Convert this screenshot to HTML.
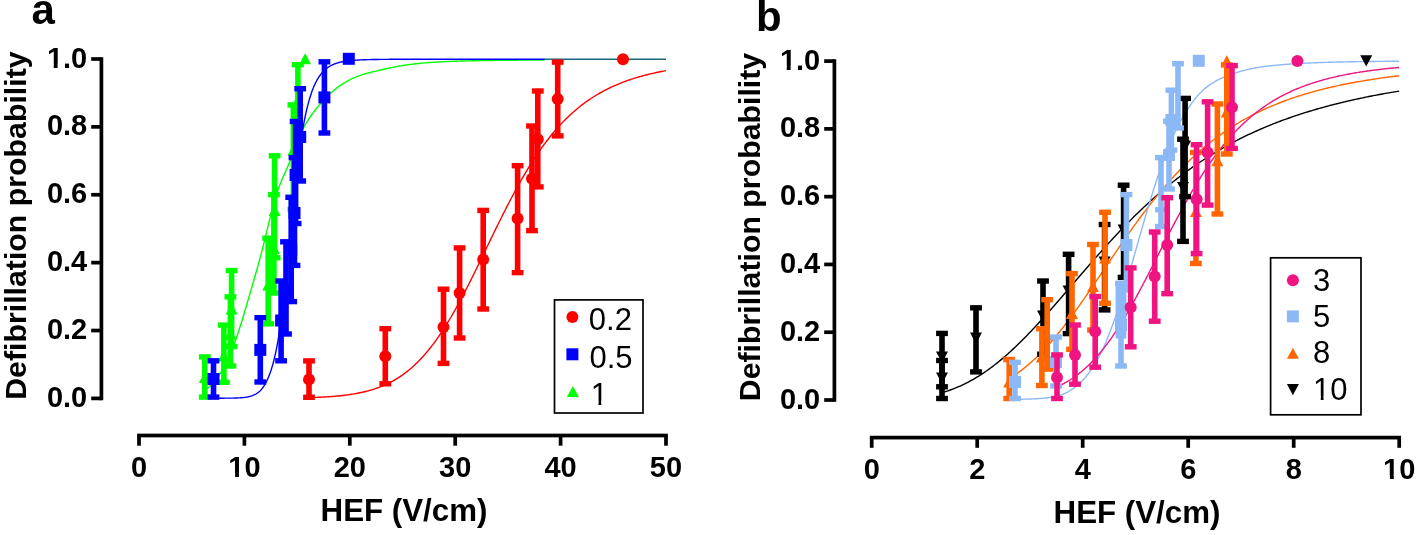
<!DOCTYPE html>
<html><head><meta charset="utf-8"><title>Defibrillation probability</title>
<style>html,body{margin:0;padding:0;background:#fff;}svg{display:block;}text{font-family:"Liberation Sans", sans-serif;fill:#000;filter:grayscale(1);}</style>
</head><body>
<svg width="1418" height="535" viewBox="0 0 1418 535">
<rect width="1418" height="535" fill="#fff"/>
<g id="panel-a">
<text x="31.5" y="24" font-size="42" font-weight="bold">a</text>
<path d="M101.4 59 L101.4 398.4" stroke="#000" stroke-width="3.7" fill="none" stroke-linecap="square"/><rect x="91.2" y="396.55" width="10.2" height="3.7" fill="#000"/><text transform="translate(87.2 406.9) scale(1 1.04)" text-anchor="end" font-size="29" font-weight="bold">0.0</text><rect x="91.2" y="328.67" width="10.2" height="3.7" fill="#000"/><text transform="translate(87.2 339.02) scale(1 1.04)" text-anchor="end" font-size="29" font-weight="bold">0.2</text><rect x="91.2" y="260.79" width="10.2" height="3.7" fill="#000"/><text transform="translate(87.2 271.14) scale(1 1.04)" text-anchor="end" font-size="29" font-weight="bold">0.4</text><rect x="91.2" y="192.91" width="10.2" height="3.7" fill="#000"/><text transform="translate(87.2 203.26) scale(1 1.04)" text-anchor="end" font-size="29" font-weight="bold">0.6</text><rect x="91.2" y="125.03" width="10.2" height="3.7" fill="#000"/><text transform="translate(87.2 135.38) scale(1 1.04)" text-anchor="end" font-size="29" font-weight="bold">0.8</text><rect x="91.2" y="57.15" width="10.2" height="3.7" fill="#000"/><text transform="translate(87.2 67.5) scale(1 1.04)" text-anchor="end" font-size="29" font-weight="bold">1.0</text><rect x="46.89" y="63.73" width="6.81" height="4.37" fill="#fff"/><rect x="57.62" y="63.73" width="5.51" height="4.37" fill="#fff"/><rect x="137.15" y="433.65" width="530.7" height="3.7" fill="#000"/><rect x="137.15" y="435.5" width="3.7" height="10.2" fill="#000"/><text transform="translate(139 477) scale(1 1.04)" text-anchor="middle" font-size="29" font-weight="bold">0</text><rect x="242.55" y="435.5" width="3.7" height="10.2" fill="#000"/><text transform="translate(244.4 477) scale(1 1.04)" text-anchor="middle" font-size="29" font-weight="bold">10</text><rect x="228.28" y="473.23" width="6.81" height="4.37" fill="#fff"/><rect x="239.01" y="473.23" width="5.51" height="4.37" fill="#fff"/><rect x="347.95" y="435.5" width="3.7" height="10.2" fill="#000"/><text transform="translate(349.8 477) scale(1 1.04)" text-anchor="middle" font-size="29" font-weight="bold">20</text><rect x="453.35" y="435.5" width="3.7" height="10.2" fill="#000"/><text transform="translate(455.2 477) scale(1 1.04)" text-anchor="middle" font-size="29" font-weight="bold">30</text><rect x="558.75" y="435.5" width="3.7" height="10.2" fill="#000"/><text transform="translate(560.6 477) scale(1 1.04)" text-anchor="middle" font-size="29" font-weight="bold">40</text><rect x="664.15" y="435.5" width="3.7" height="10.2" fill="#000"/><text transform="translate(666 477) scale(1 1.04)" text-anchor="middle" font-size="29" font-weight="bold">50</text>
<text transform="translate(26 225.6) rotate(-90)" text-anchor="middle" font-size="30.3" font-weight="bold">Defibrillation probability</text>
<text x="404" y="521" text-anchor="middle" font-size="31.3" font-weight="bold">HEF (V/cm)</text>
<g fill="none" stroke-width="1.4">
<path d="M204.88 389.8 L206.01 389 L207.14 388.14 L208.27 387.22 L209.41 386.24 L210.54 385.18 L211.67 384.06 L212.81 382.86 L213.94 381.59 L215.07 380.24 L216.21 378.81 L217.34 377.29 L218.47 375.68 L219.6 373.99 L220.74 372.2 L221.87 370.32 L223 368.34 L224.14 366.27 L225.27 364.1 L226.4 361.83 L227.54 359.45 L228.67 356.97 L229.8 354.4 L230.94 351.72 L232.07 348.93 L233.2 346.05 L234.33 343.06 L235.47 339.98 L236.6 336.78 L237.73 333.47 L238.87 330.06 L240 326.55 L241.13 322.96 L242.27 319.29 L243.4 315.55 L244.53 311.75 L245.66 307.91 L246.8 304.03 L247.93 300.12 L249.06 296.23 L250.2 292.34 L251.33 288.44 L252.46 284.55 L253.6 280.63 L254.73 276.69 L255.86 272.71 L257 268.7 L258.13 264.63 L259.26 260.51 L260.39 256.33 L261.53 252.07 L262.66 247.71 L263.79 243.21 L264.93 238.62 L266.06 233.97 L267.19 229.3 L268.33 224.64 L269.46 220.02 L270.59 215.48 L271.72 211.05 L272.86 206.74 L273.99 202.6 L275.12 198.63 L276.26 194.86 L277.39 191.31 L278.52 187.99 L279.66 184.92 L280.79 182.04 L281.92 179.31 L283.06 176.68 L284.19 174.11 L285.32 171.57 L286.45 169.02 L287.59 166.43 L288.72 163.78 L289.85 161.03 L290.99 158.17 L292.12 155.2 L293.25 152.16 L294.39 149.11 L295.52 146.07 L296.65 143.08 L297.79 140.18 L298.92 137.37 L300.05 134.7 L301.18 132.16 L302.32 129.79 L303.45 127.58 L304.58 125.5 L305.72 123.51 L306.85 121.62 L307.98 119.81 L309.12 118.07 L310.25 116.39 L311.38 114.77 L312.51 113.21 L313.65 111.69 L314.78 110.21 L315.91 108.76 L317.05 107.35 L318.18 105.97 L319.31 104.61 L320.45 103.28 L321.58 101.97 L322.71 100.7 L323.85 99.46 L324.98 98.24 L326.11 97.07 L327.24 95.92 L328.38 94.81 L329.51 93.72 L330.64 92.67 L331.78 91.66 L332.91 90.67 L334.04 89.71 L335.18 88.79 L336.31 87.9 L337.44 87.03 L338.57 86.19 L339.71 85.39 L340.84 84.61 L341.97 83.85 L343.11 83.13 L344.24 82.43 L345.37 81.75 L346.51 81.1 L347.64 80.47 L348.77 79.87 L349.91 79.28 L351.04 78.72 L352.17 78.18 L353.3 77.66 L354.44 77.16 L355.57 76.68 L356.7 76.22 L357.84 75.78 L358.97 75.35 L360.1 74.94 L361.24 74.55 L362.37 74.18 L363.5 73.82 L364.64 73.49 L365.77 73.16 L366.9 72.85 L368.03 72.55 L369.17 72.26 L370.3 71.97 L371.43 71.69 L372.57 71.41 L373.7 71.14 L374.83 70.87 L375.97 70.6 L377.1 70.33 L378.23 70.06 L379.36 69.79 L380.5 69.52 L381.63 69.26 L382.76 68.99 L383.9 68.73 L385.03 68.47 L386.16 68.22 L387.3 67.97 L388.43 67.73 L389.56 67.49 L390.7 67.25 L391.83 67.02 L392.96 66.79 L394.09 66.57 L395.23 66.36 L396.36 66.15 L397.49 65.94 L398.63 65.74 L399.76 65.54 L400.89 65.35 L402.03 65.17 L403.16 64.99 L404.29 64.81 L405.42 64.64 L406.56 64.48 L407.69 64.32 L408.82 64.16 L409.96 64.01 L411.09 63.86 L412.22 63.72 L413.36 63.58 L414.49 63.45 L415.62 63.32 L416.76 63.19 L417.89 63.07 L419.02 62.95 L420.15 62.84 L421.29 62.73 L422.42 62.62 L423.55 62.52 L424.69 62.42 L425.82 62.33 L426.95 62.23 L428.09 62.15 L429.22 62.06 L430.35 61.98 L431.48 61.9 L432.62 61.82 L433.75 61.74 L434.88 61.67 L436.02 61.6 L437.15 61.53 L438.28 61.47 L439.42 61.4 L440.55 61.34 L441.68 61.29 L442.82 61.23 L443.95 61.17 L445.08 61.12 L446.21 61.07 L447.35 61.02 L448.48 60.98 L449.61 60.93 L450.75 60.89 L451.88 60.84 L453.01 60.8 L454.15 60.76 L455.28 60.73 L456.41 60.69 L457.55 60.65 L458.68 60.62 L459.81 60.59 L460.94 60.55 L462.08 60.52 L463.21 60.49 L464.34 60.46 L465.48 60.44 L466.61 60.41 L467.74 60.38 L468.88 60.35 L470.01 60.33 L471.14 60.3 L472.27 60.28 L473.41 60.26 L474.54 60.23 L475.67 60.21 L476.81 60.19 L477.94 60.17 L479.07 60.15 L480.21 60.13 L481.34 60.11 L482.47 60.09 L483.61 60.07 L484.74 60.05 L485.87 60.03 L487 60.02 L488.14 60 L489.27 59.98 L490.4 59.97 L491.54 59.95 L492.67 59.94 L493.8 59.92 L494.94 59.91 L496.07 59.89 L497.2 59.88 L498.33 59.86 L499.47 59.85 L500.6 59.84 L501.73 59.83 L502.87 59.81 L504 59.8 L505.13 59.79 L506.27 59.78 L507.4 59.77 L508.53 59.76 L509.67 59.75 L510.8 59.73 L511.93 59.72 L513.06 59.71 L514.2 59.71 L515.33 59.7 L516.46 59.69 L517.6 59.68 L518.73 59.67 L519.86 59.66 L521 59.65 L522.13 59.64 L523.26 59.63 L524.4 59.63 L525.53 59.62 L526.66 59.61 L527.79 59.6 L528.93 59.6 L530.06 59.59 L531.19 59.58 L532.33 59.58 L533.46 59.57 L534.59 59.56 L535.73 59.56 L536.86 59.55 L537.99 59.54 L539.12 59.54 L540.26 59.53 L541.39 59.53 L542.52 59.52 L543.66 59.52 L544.79 59.51" stroke="#00ff00" transform="translate(0 0.5)"/>
<path d="M213.83 398.2 L214.39 398.2 L214.94 398.2 L215.49 398.2 L216.04 398.2 L216.59 398.2 L217.14 398.19 L217.7 398.19 L218.25 398.19 L218.8 398.19 L219.35 398.19 L219.9 398.19 L220.45 398.19 L221 398.19 L221.56 398.19 L222.11 398.19 L222.66 398.18 L223.21 398.18 L223.76 398.18 L224.31 398.18 L224.87 398.17 L225.42 398.17 L225.97 398.17 L226.52 398.17 L227.07 398.16 L227.62 398.16 L228.18 398.15 L228.73 398.15 L229.28 398.14 L229.83 398.14 L230.38 398.13 L230.93 398.12 L231.48 398.11 L232.04 398.1 L232.59 398.09 L233.14 398.08 L233.69 398.07 L234.24 398.06 L234.79 398.04 L235.35 398.03 L235.9 398.01 L236.45 397.99 L237 397.97 L237.55 397.95 L238.1 397.92 L238.66 397.9 L239.21 397.87 L239.76 397.84 L240.31 397.8 L240.86 397.77 L241.41 397.72 L241.97 397.68 L242.52 397.63 L243.07 397.58 L243.62 397.52 L244.17 397.46 L244.72 397.4 L245.27 397.32 L245.83 397.25 L246.38 397.16 L246.93 397.07 L247.48 396.97 L248.03 396.86 L248.58 396.75 L249.14 396.62 L249.69 396.49 L250.24 396.34 L250.79 396.18 L251.34 396.01 L251.89 395.83 L252.45 395.63 L253 395.42 L253.55 395.19 L254.1 394.95 L254.65 394.68 L255.2 394.4 L255.76 394.1 L256.31 393.77 L256.86 393.42 L257.41 393.04 L257.96 392.64 L258.51 392.21 L259.06 391.75 L259.62 391.25 L260.17 390.72 L260.72 390.16 L261.27 389.55 L261.82 388.9 L262.37 388.21 L262.93 387.47 L263.48 386.69 L264.03 385.85 L264.58 384.97 L265.13 384.03 L265.68 383.04 L266.24 381.99 L266.79 380.88 L267.34 379.72 L267.89 378.5 L268.44 377.21 L268.99 375.87 L269.54 374.45 L270.1 372.96 L270.65 371.39 L271.2 369.74 L271.75 368 L272.3 366.17 L272.85 364.23 L273.41 362.19 L273.96 360.03 L274.51 357.78 L275.06 355.43 L275.61 352.96 L276.16 350.35 L276.72 347.59 L277.27 344.67 L277.82 341.56 L278.37 338.26 L278.92 334.77 L279.47 331.09 L280.03 327.22 L280.58 323.15 L281.13 318.9 L281.68 314.47 L282.23 309.86 L282.78 305.09 L283.33 300.16 L283.89 295.08 L284.44 289.87 L284.99 284.55 L285.54 279.13 L286.09 273.62 L286.64 268.06 L287.2 262.45 L287.75 256.82 L288.3 251.18 L288.85 245.56 L289.4 239.99 L289.95 234.46 L290.51 228.96 L291.06 223.49 L291.61 218.07 L292.16 212.7 L292.71 207.39 L293.26 202.16 L293.82 197.01 L294.37 191.95 L294.92 186.99 L295.47 182.13 L296.02 177.38 L296.57 172.74 L297.12 168.22 L297.68 163.82 L298.23 159.55 L298.78 155.4 L299.33 151.38 L299.88 147.49 L300.43 143.73 L300.99 140.09 L301.54 136.59 L302.09 133.21 L302.64 129.95 L303.19 126.82 L303.74 123.81 L304.3 120.93 L304.85 118.16 L305.4 115.5 L305.95 112.95 L306.5 110.52 L307.05 108.18 L307.6 105.95 L308.16 103.82 L308.71 101.77 L309.26 99.82 L309.81 97.96 L310.36 96.18 L310.91 94.48 L311.47 92.85 L312.02 91.3 L312.57 89.82 L313.12 88.41 L313.67 87.06 L314.22 85.77 L314.78 84.55 L315.33 83.38 L315.88 82.26 L316.43 81.2 L316.98 80.18 L317.53 79.21 L318.09 78.29 L318.64 77.41 L319.19 76.57 L319.74 75.77 L320.29 75.01 L320.84 74.28 L321.39 73.59 L321.95 72.93 L322.5 72.29 L323.05 71.69 L323.6 71.12 L324.15 70.57 L324.7 70.04 L325.26 69.55 L325.81 69.07 L326.36 68.62 L326.91 68.19 L327.46 67.78 L328.01 67.38 L328.57 67.01 L329.12 66.66 L329.67 66.32 L330.22 66 L330.77 65.69 L331.32 65.4 L331.87 65.12 L332.43 64.86 L332.98 64.61 L333.53 64.37 L334.08 64.14 L334.63 63.92 L335.18 63.72 L335.74 63.52 L336.29 63.34 L336.84 63.16 L337.39 62.99 L337.94 62.83 L338.49 62.68 L339.05 62.53 L339.6 62.39 L340.15 62.26 L340.7 62.13 L341.25 62.01 L341.8 61.9 L342.36 61.79 L342.91 61.69 L343.46 61.59 L344.01 61.49 L344.56 61.4 L345.11 61.32 L345.66 61.23 L346.22 61.15 L346.77 61.08 L347.32 61 L347.87 60.93 L348.42 60.87 L348.97 60.8 L349.53 60.74 L350.08 60.68 L350.63 60.63 L351.18 60.57 L351.73 60.52 L352.28 60.47 L352.84 60.42 L353.39 60.37 L353.94 60.33 L354.49 60.29 L355.04 60.25 L355.59 60.21 L356.15 60.17 L356.7 60.14 L357.25 60.1 L357.8 60.07 L358.35 60.04 L358.9 60.01 L359.45 59.98 L360.01 59.95 L360.56 59.92 L361.11 59.89 L361.66 59.87 L362.21 59.85 L362.76 59.82 L363.32 59.8 L363.87 59.78 L364.42 59.76 L364.97 59.74 L365.52 59.72 L366.07 59.7 L366.63 59.68 L367.18 59.67 L367.73 59.65 L368.28 59.64 L368.83 59.62 L369.38 59.61 L369.93 59.59 L370.49 59.58 L371.04 59.57 L371.59 59.55 L372.14 59.54 L372.69 59.53 L373.24 59.52 L373.8 59.51 L374.35 59.5 L374.9 59.49 L375.45 59.48 L376 59.47 L376.55 59.46 L377.11 59.45 L377.66 59.44 L378.21 59.44 L378.76 59.43 L379.31 59.42 L379.86 59.41 L380.42 59.41 L380.97 59.4 L381.52 59.39 L382.07 59.39 L382.62 59.38 L383.17 59.38 L383.72 59.37 L384.28 59.36 L384.83 59.36 L385.38 59.35 L385.93 59.35 L386.48 59.34 L387.03 59.34 L387.59 59.34 L388.14 59.33 L388.69 59.33 L389.24 59.32 L389.79 59.32 L390.34 59.32 L390.9 59.31 L391.45 59.31 L392 59.31 L392.55 59.3 L393.1 59.3 L393.65 59.3 L394.21 59.29 L394.76 59.29 L395.31 59.29 L395.86 59.29 L396.41 59.28 L396.96 59.28 L397.51 59.28 L398.07 59.28 L398.62 59.27 L399.17 59.27 L399.72 59.27 L400.27 59.27 L400.82 59.27 L401.38 59.26 L401.93 59.26 L402.48 59.26 L403.03 59.26 L403.58 59.26 L404.13 59.26 L404.69 59.25 L405.24 59.25 L405.79 59.25 L406.34 59.25 L406.89 59.25 L407.44 59.25 L407.99 59.25 L408.55 59.24 L409.1 59.24 L409.65 59.24 L410.2 59.24 L410.75 59.24 L411.3 59.24 L411.86 59.24 L412.41 59.24 L412.96 59.24 L413.51 59.23 L414.06 59.23 L414.61 59.23 L415.17 59.23 L415.72 59.23 L416.27 59.23 L416.82 59.23 L417.37 59.23 L417.92 59.23 L418.48 59.23 L419.03 59.23 L419.58 59.23 L420.13 59.23 L420.68 59.22 L421.23 59.22 L421.78 59.22 L422.34 59.22 L422.89 59.22 L423.44 59.22 L423.99 59.22 L424.54 59.22 L425.09 59.22 L425.65 59.22 L426.2 59.22 L426.75 59.22 L427.3 59.22 L427.85 59.22 L428.4 59.22 L428.96 59.22 L429.51 59.22 L430.06 59.22 L430.61 59.22 L431.16 59.22 L431.71 59.21 L432.26 59.21 L432.82 59.21 L433.37 59.21 L433.92 59.21 L434.47 59.21 L435.02 59.21 L435.57 59.21 L436.13 59.21 L436.68 59.21 L437.23 59.21 L437.78 59.21 L438.33 59.21 L438.88 59.21 L439.44 59.21 L439.99 59.21 L440.54 59.21 L441.09 59.21 L441.64 59.21 L442.19 59.21 L442.75 59.21 L443.3 59.21 L443.85 59.21 L444.4 59.21 L444.95 59.21 L445.5 59.21 L446.05 59.21 L446.61 59.21 L447.16 59.21 L447.71 59.21 L448.26 59.21 L448.81 59.21 L449.36 59.21 L449.92 59.21 L450.47 59.21 L451.02 59.21 L451.57 59.21 L452.12 59.21 L452.67 59.21 L453.23 59.21 L453.78 59.21 L454.33 59.21 L454.88 59.21 L455.43 59.21 L455.98 59.21 L456.54 59.21 L457.09 59.21 L457.64 59.21 L458.19 59.2 L458.74 59.2 L459.29 59.2 L459.84 59.2 L460.4 59.2 L460.95 59.2 L461.5 59.2 L462.05 59.2 L462.6 59.2 L463.15 59.2 L463.71 59.2 L464.26 59.2 L464.81 59.2 L465.36 59.2 L465.91 59.2 L466.46 59.2 L467.02 59.2 L467.57 59.2 L468.12 59.2 L468.67 59.2 L469.22 59.2 L469.77 59.2 L470.32 59.2 L470.88 59.2 L471.43 59.2 L471.98 59.2 L472.53 59.2 L473.08 59.2 L473.63 59.2 L474.19 59.2 L474.74 59.2 L475.29 59.2 L475.84 59.2 L476.39 59.2 L476.94 59.2 L477.5 59.2 L478.05 59.2 L478.6 59.2 L479.15 59.2 L479.7 59.2 L480.25 59.2 L480.81 59.2 L481.36 59.2 L481.91 59.2 L482.46 59.2 L483.01 59.2 L483.56 59.2 L484.11 59.2 L484.67 59.2 L485.22 59.2 L485.77 59.2 L486.32 59.2 L486.87 59.2 L487.42 59.2 L487.98 59.2 L488.53 59.2 L489.08 59.2 L489.63 59.2 L490.18 59.2 L490.73 59.2 L491.29 59.2 L491.84 59.2 L492.39 59.2 L492.94 59.2 L493.49 59.2 L494.04 59.2 L494.6 59.2 L495.15 59.2 L495.7 59.2 L496.25 59.2 L496.8 59.2 L497.35 59.2 L497.9 59.2 L498.46 59.2 L499.01 59.2 L499.56 59.2 L500.11 59.2 L500.66 59.2 L501.21 59.2 L501.77 59.2 L502.32 59.2 L502.87 59.2 L503.42 59.2 L503.97 59.2 L504.52 59.2 L505.08 59.2 L505.63 59.2 L506.18 59.2 L506.73 59.2 L507.28 59.2 L507.83 59.2 L508.38 59.2 L508.94 59.2 L509.49 59.2 L510.04 59.2 L510.59 59.2 L511.14 59.2 L511.69 59.2 L512.25 59.2 L512.8 59.2 L513.35 59.2 L513.9 59.2 L514.45 59.2 L515 59.2 L515.56 59.2 L516.11 59.2 L516.66 59.2 L517.21 59.2 L517.76 59.2 L518.31 59.2 L518.87 59.2 L519.42 59.2 L519.97 59.2 L520.52 59.2 L521.07 59.2 L521.62 59.2 L522.17 59.2 L522.73 59.2 L523.28 59.2 L523.83 59.2 L524.38 59.2 L524.93 59.2 L525.48 59.2 L526.04 59.2 L526.59 59.2 L527.14 59.2 L527.69 59.2 L528.24 59.2 L528.79 59.2 L529.35 59.2 L529.9 59.2 L530.45 59.2 L531 59.2 L531.55 59.2 L532.1 59.2 L532.65 59.2 L533.21 59.2 L533.76 59.2 L534.31 59.2 L534.86 59.2 L535.41 59.2 L535.96 59.2 L536.52 59.2 L537.07 59.2 L537.62 59.2 L538.17 59.2 L538.72 59.2 L539.27 59.2 L539.83 59.2 L540.38 59.2 L540.93 59.2 L541.48 59.2 L542.03 59.2 L542.58 59.2 L543.14 59.2 L543.69 59.2 L544.24 59.2 L544.79 59.2" stroke="#0000ff"/>
<path d="M544.49 59.35 L666 59.35" stroke="#17697b" stroke-width="1.5"/>
<path d="M308.69 397.63 L309.89 397.6 L311.08 397.56 L312.27 397.52 L313.46 397.48 L314.65 397.44 L315.84 397.39 L317.03 397.35 L318.22 397.3 L319.41 397.24 L320.6 397.19 L321.8 397.13 L322.99 397.07 L324.18 397 L325.37 396.94 L326.56 396.86 L327.75 396.79 L328.94 396.71 L330.13 396.63 L331.32 396.54 L332.51 396.45 L333.71 396.36 L334.9 396.26 L336.09 396.16 L337.28 396.05 L338.47 395.94 L339.66 395.82 L340.85 395.7 L342.04 395.57 L343.23 395.43 L344.42 395.29 L345.62 395.15 L346.81 394.99 L348 394.83 L349.19 394.67 L350.38 394.49 L351.57 394.31 L352.76 394.12 L353.95 393.92 L355.14 393.72 L356.33 393.5 L357.53 393.28 L358.72 393.05 L359.91 392.81 L361.1 392.56 L362.29 392.3 L363.48 392.03 L364.67 391.74 L365.86 391.45 L367.05 391.15 L368.25 390.83 L369.44 390.5 L370.63 390.16 L371.82 389.81 L373.01 389.44 L374.2 389.06 L375.39 388.67 L376.58 388.26 L377.77 387.83 L378.96 387.39 L380.16 386.94 L381.35 386.47 L382.54 385.98 L383.73 385.48 L384.92 384.96 L386.11 384.42 L387.3 383.86 L388.49 383.29 L389.68 382.69 L390.87 382.08 L392.07 381.44 L393.26 380.79 L394.45 380.11 L395.64 379.41 L396.83 378.69 L398.02 377.95 L399.21 377.19 L400.4 376.4 L401.59 375.59 L402.78 374.75 L403.98 373.89 L405.17 373.01 L406.36 372.1 L407.55 371.16 L408.74 370.2 L409.93 369.21 L411.12 368.2 L412.31 367.15 L413.5 366.08 L414.69 364.98 L415.89 363.86 L417.08 362.7 L418.27 361.51 L419.46 360.3 L420.65 359.05 L421.84 357.78 L423.03 356.48 L424.22 355.14 L425.41 353.78 L426.6 352.38 L427.8 350.95 L428.99 349.5 L430.18 348.01 L431.37 346.49 L432.56 344.94 L433.75 343.36 L434.94 341.74 L436.13 340.1 L437.32 338.42 L438.52 336.72 L439.71 334.98 L440.9 333.21 L442.09 331.42 L443.28 329.59 L444.47 327.73 L445.66 325.85 L446.85 323.93 L448.04 321.99 L449.23 320.01 L450.43 318.01 L451.62 315.99 L452.81 313.93 L454 311.85 L455.19 309.75 L456.38 307.62 L457.57 305.46 L458.76 303.29 L459.95 301.09 L461.14 298.86 L462.34 296.62 L463.53 294.36 L464.72 292.07 L465.91 289.77 L467.1 287.45 L468.29 285.12 L469.48 282.77 L470.67 280.4 L471.86 278.02 L473.05 275.62 L474.25 273.22 L475.44 270.8 L476.63 268.38 L477.82 265.94 L479.01 263.5 L480.2 261.05 L481.39 258.6 L482.58 256.14 L483.77 253.68 L484.96 251.21 L486.16 248.75 L487.35 246.28 L488.54 243.82 L489.73 241.36 L490.92 238.9 L492.11 236.44 L493.3 233.99 L494.49 231.55 L495.68 229.11 L496.88 226.68 L498.07 224.26 L499.26 221.85 L500.45 219.45 L501.64 217.06 L502.83 214.68 L504.02 212.32 L505.21 209.97 L506.4 207.64 L507.59 205.32 L508.79 203.02 L509.98 200.73 L511.17 198.46 L512.36 196.22 L513.55 193.99 L514.74 191.78 L515.93 189.58 L517.12 187.41 L518.31 185.27 L519.5 183.14 L520.7 181.03 L521.89 178.95 L523.08 176.89 L524.27 174.85 L525.46 172.84 L526.65 170.85 L527.84 168.88 L529.03 166.94 L530.22 165.02 L531.41 163.13 L532.61 161.26 L533.8 159.41 L534.99 157.6 L536.18 155.8 L537.37 154.03 L538.56 152.29 L539.75 150.57 L540.94 148.88 L542.13 147.21 L543.32 145.57 L544.52 143.95 L545.71 142.36 L546.9 140.79 L548.09 139.24 L549.28 137.73 L550.47 136.23 L551.66 134.76 L552.85 133.32 L554.04 131.9 L555.24 130.5 L556.43 129.12 L557.62 127.77 L558.81 126.45 L560 125.14 L561.19 123.86 L562.38 122.6 L563.57 121.37 L564.76 120.15 L565.95 118.96 L567.15 117.79 L568.34 116.64 L569.53 115.52 L570.72 114.41 L571.91 113.32 L573.1 112.26 L574.29 111.21 L575.48 110.18 L576.67 109.18 L577.86 108.19 L579.06 107.22 L580.25 106.27 L581.44 105.34 L582.63 104.43 L583.82 103.53 L585.01 102.65 L586.2 101.79 L587.39 100.94 L588.58 100.12 L589.77 99.31 L590.97 98.51 L592.16 97.73 L593.35 96.97 L594.54 96.22 L595.73 95.48 L596.92 94.76 L598.11 94.06 L599.3 93.37 L600.49 92.69 L601.68 92.03 L602.88 91.38 L604.07 90.74 L605.26 90.12 L606.45 89.51 L607.64 88.91 L608.83 88.32 L610.02 87.75 L611.21 87.19 L612.4 86.63 L613.6 86.09 L614.79 85.57 L615.98 85.05 L617.17 84.54 L618.36 84.04 L619.55 83.56 L620.74 83.08 L621.93 82.61 L623.12 82.15 L624.31 81.71 L625.51 81.27 L626.7 80.84 L627.89 80.42 L629.08 80 L630.27 79.6 L631.46 79.2 L632.65 78.82 L633.84 78.44 L635.03 78.07 L636.22 77.7 L637.42 77.35 L638.61 77 L639.8 76.65 L640.99 76.32 L642.18 75.99 L643.37 75.67 L644.56 75.35 L645.75 75.05 L646.94 74.74 L648.13 74.45 L649.33 74.16 L650.52 73.87 L651.71 73.59 L652.9 73.32 L654.09 73.06 L655.28 72.79 L656.47 72.54 L657.66 72.29 L658.85 72.04 L660.04 71.8 L661.24 71.56 L662.43 71.33 L663.62 71.11 L664.81 70.88 L666 70.67" stroke="#ff0000"/>
</g>
<rect x="202" y="356.9" width="5.6" height="40.2" fill="#00ff00"/><rect x="198.9" y="354.2" width="11.8" height="5.4" fill="#00ff00"/><rect x="198.9" y="394.4" width="11.8" height="5.4" fill="#00ff00"/><path d="M204.8 371.8 L210.8 382.9 L198.8 382.9 Z" fill="#00ff00"/><rect x="221.1" y="325.1" width="5.6" height="57.2" fill="#00ff00"/><rect x="218" y="322.4" width="11.8" height="5.4" fill="#00ff00"/><rect x="218" y="379.6" width="11.8" height="5.4" fill="#00ff00"/><path d="M223.9 350.3 L229.9 361.4 L217.9 361.4 Z" fill="#00ff00"/><rect x="227.6" y="296.8" width="5.6" height="69.2" fill="#00ff00"/><rect x="224.5" y="294.1" width="11.8" height="5.4" fill="#00ff00"/><rect x="224.5" y="363.3" width="11.8" height="5.4" fill="#00ff00"/><path d="M230.4 328.3 L236.4 339.4 L224.4 339.4 Z" fill="#00ff00"/><rect x="228.8" y="270.5" width="5.6" height="76" fill="#00ff00"/><rect x="225.7" y="267.8" width="11.8" height="5.4" fill="#00ff00"/><rect x="225.7" y="343.8" width="11.8" height="5.4" fill="#00ff00"/><path d="M231.6 303.3 L237.6 314.4 L225.6 314.4 Z" fill="#00ff00"/><rect x="265.4" y="238.2" width="5.6" height="85.6" fill="#00ff00"/><rect x="262.3" y="235.5" width="11.8" height="5.4" fill="#00ff00"/><rect x="262.3" y="321.1" width="11.8" height="5.4" fill="#00ff00"/><path d="M268.2 279.3 L274.2 290.4 L262.2 290.4 Z" fill="#00ff00"/><rect x="271.1" y="194.6" width="5.6" height="98.4" fill="#00ff00"/><rect x="268" y="191.9" width="11.8" height="5.4" fill="#00ff00"/><rect x="268" y="290.3" width="11.8" height="5.4" fill="#00ff00"/><path d="M273.9 242.8 L279.9 253.9 L267.9 253.9 Z" fill="#00ff00"/><rect x="271.8" y="155.8" width="5.6" height="102" fill="#00ff00"/><rect x="268.7" y="153.1" width="11.8" height="5.4" fill="#00ff00"/><rect x="268.7" y="255.1" width="11.8" height="5.4" fill="#00ff00"/><path d="M274.6 204.8 L280.6 215.9 L268.6 215.9 Z" fill="#00ff00"/><rect x="290.6" y="104.9" width="5.6" height="104.6" fill="#00ff00"/><rect x="287.5" y="102.2" width="11.8" height="5.4" fill="#00ff00"/><rect x="287.5" y="206.8" width="11.8" height="5.4" fill="#00ff00"/><path d="M293.4 144.3 L299.4 155.4 L287.4 155.4 Z" fill="#00ff00"/><rect x="295.1" y="64.7" width="5.6" height="70.3" fill="#00ff00"/><rect x="292" y="62" width="11.8" height="5.4" fill="#00ff00"/><rect x="292" y="132.3" width="11.8" height="5.4" fill="#00ff00"/><path d="M297.9 94.3 L303.9 105.4 L291.9 105.4 Z" fill="#00ff00"/><path d="M305.1 53.2 L311.1 64.3 L299.1 64.3 Z" fill="#00ff00"/>
<rect x="210.7" y="360.8" width="5.6" height="36.3" fill="#0000ff"/><rect x="207.6" y="358.1" width="11.8" height="5.4" fill="#0000ff"/><rect x="207.6" y="394.4" width="11.8" height="5.4" fill="#0000ff"/><rect x="207.5" y="373" width="12" height="12" fill="#0000ff"/><rect x="257.5" y="317.7" width="5.6" height="64.3" fill="#0000ff"/><rect x="254.4" y="315" width="11.8" height="5.4" fill="#0000ff"/><rect x="254.4" y="379.3" width="11.8" height="5.4" fill="#0000ff"/><rect x="254.3" y="343.9" width="12" height="12" fill="#0000ff"/><rect x="278.3" y="281" width="5.6" height="79.8" fill="#0000ff"/><rect x="275.2" y="278.3" width="11.8" height="5.4" fill="#0000ff"/><rect x="275.2" y="358.1" width="11.8" height="5.4" fill="#0000ff"/><rect x="275.1" y="314.5" width="12" height="12" fill="#0000ff"/><rect x="283.2" y="241.8" width="5.6" height="92.2" fill="#0000ff"/><rect x="280.1" y="239.1" width="11.8" height="5.4" fill="#0000ff"/><rect x="280.1" y="331.3" width="11.8" height="5.4" fill="#0000ff"/><rect x="280" y="284" width="12" height="12" fill="#0000ff"/><rect x="288.4" y="197.3" width="5.6" height="104.3" fill="#0000ff"/><rect x="285.3" y="194.6" width="11.8" height="5.4" fill="#0000ff"/><rect x="285.3" y="298.9" width="11.8" height="5.4" fill="#0000ff"/><rect x="285.2" y="244" width="12" height="12" fill="#0000ff"/><rect x="291.7" y="157.6" width="5.6" height="107.8" fill="#0000ff"/><rect x="288.6" y="154.9" width="11.8" height="5.4" fill="#0000ff"/><rect x="288.6" y="262.7" width="11.8" height="5.4" fill="#0000ff"/><rect x="288.5" y="207" width="12" height="12" fill="#0000ff"/><rect x="292.8" y="121.5" width="5.6" height="102" fill="#0000ff"/><rect x="289.7" y="118.8" width="11.8" height="5.4" fill="#0000ff"/><rect x="289.7" y="220.8" width="11.8" height="5.4" fill="#0000ff"/><rect x="289.6" y="169" width="12" height="12" fill="#0000ff"/><rect x="297.4" y="88.7" width="5.6" height="92.3" fill="#0000ff"/><rect x="294.3" y="86" width="11.8" height="5.4" fill="#0000ff"/><rect x="294.3" y="178.3" width="11.8" height="5.4" fill="#0000ff"/><rect x="294.2" y="131" width="12" height="12" fill="#0000ff"/><rect x="321.6" y="61.8" width="5.6" height="71.2" fill="#0000ff"/><rect x="318.5" y="59.1" width="11.8" height="5.4" fill="#0000ff"/><rect x="318.5" y="130.3" width="11.8" height="5.4" fill="#0000ff"/><rect x="318.4" y="91.4" width="12" height="12" fill="#0000ff"/><rect x="342.8" y="52.8" width="12" height="12" fill="#0000ff"/>
<rect x="306.2" y="360.9" width="5.6" height="36.4" fill="#ff0000"/><rect x="303.1" y="358.2" width="11.8" height="5.4" fill="#ff0000"/><rect x="303.1" y="394.6" width="11.8" height="5.4" fill="#ff0000"/><circle cx="309" cy="379.4" r="6" fill="#ff0000"/><rect x="382.5" y="328.7" width="5.6" height="55.1" fill="#ff0000"/><rect x="379.4" y="326" width="11.8" height="5.4" fill="#ff0000"/><rect x="379.4" y="381.1" width="11.8" height="5.4" fill="#ff0000"/><circle cx="385.3" cy="356.2" r="6" fill="#ff0000"/><rect x="440.7" y="289.2" width="5.6" height="74.2" fill="#ff0000"/><rect x="437.6" y="286.5" width="11.8" height="5.4" fill="#ff0000"/><rect x="437.6" y="360.7" width="11.8" height="5.4" fill="#ff0000"/><circle cx="443.5" cy="327" r="6" fill="#ff0000"/><rect x="456.8" y="247.9" width="5.6" height="90.1" fill="#ff0000"/><rect x="453.7" y="245.2" width="11.8" height="5.4" fill="#ff0000"/><rect x="453.7" y="335.3" width="11.8" height="5.4" fill="#ff0000"/><circle cx="459.6" cy="293" r="6" fill="#ff0000"/><rect x="480.4" y="210.4" width="5.6" height="98.6" fill="#ff0000"/><rect x="477.3" y="207.7" width="11.8" height="5.4" fill="#ff0000"/><rect x="477.3" y="306.3" width="11.8" height="5.4" fill="#ff0000"/><circle cx="483.2" cy="259.6" r="6" fill="#ff0000"/><rect x="514.8" y="165.7" width="5.6" height="106.9" fill="#ff0000"/><rect x="511.7" y="163" width="11.8" height="5.4" fill="#ff0000"/><rect x="511.7" y="269.9" width="11.8" height="5.4" fill="#ff0000"/><circle cx="517.6" cy="218.4" r="6" fill="#ff0000"/><rect x="529.2" y="126" width="5.6" height="104.6" fill="#ff0000"/><rect x="526.1" y="123.3" width="11.8" height="5.4" fill="#ff0000"/><rect x="526.1" y="227.9" width="11.8" height="5.4" fill="#ff0000"/><circle cx="532" cy="178.7" r="6" fill="#ff0000"/><rect x="535" y="91" width="5.6" height="95.9" fill="#ff0000"/><rect x="531.9" y="88.3" width="11.8" height="5.4" fill="#ff0000"/><rect x="531.9" y="184.2" width="11.8" height="5.4" fill="#ff0000"/><circle cx="537.8" cy="139.3" r="6" fill="#ff0000"/><rect x="554.9" y="62.1" width="5.6" height="73.8" fill="#ff0000"/><rect x="551.8" y="59.4" width="11.8" height="5.4" fill="#ff0000"/><rect x="551.8" y="133.2" width="11.8" height="5.4" fill="#ff0000"/><circle cx="557.7" cy="98.9" r="6" fill="#ff0000"/><circle cx="623" cy="59.2" r="6" fill="#ff0000"/>
<rect x="554.5" y="299.9" width="88.5" height="113.1" fill="#fff" stroke="#000" stroke-width="1.7"/>
<circle cx="572.4" cy="317" r="6" fill="#ff0000"/>
<rect x="566.4" y="348.3" width="12" height="12" fill="#0000ff"/>
<path d="M572.9 385.9 L578.9 397 L566.9 397 Z" fill="#00ff00"/>
<text transform="translate(588.8 330) scale(1 1.04)" text-anchor="start" font-size="31">0.2</text>
<text transform="translate(589.5 367.6) scale(1 1.04)" text-anchor="start" font-size="31">0.5</text>
<text transform="translate(590.7 404.6) scale(1 1.04)" text-anchor="start" font-size="31">1</text>
<rect x="590.7" y="401.21" width="7.75" height="3.99" fill="#fff"/><rect x="601.24" y="401.21" width="6.51" height="3.99" fill="#fff"/>
</g>
<g id="panel-b">
<text x="756" y="31" font-size="42" font-weight="bold">b</text>
<path d="M834.4 61.1 L834.4 400" stroke="#000" stroke-width="3.7" fill="none" stroke-linecap="square"/><rect x="824.2" y="398.15" width="10.2" height="3.7" fill="#000"/><text transform="translate(820.2 408.5) scale(1 1.04)" text-anchor="end" font-size="29" font-weight="bold">0.0</text><rect x="824.2" y="330.37" width="10.2" height="3.7" fill="#000"/><text transform="translate(820.2 340.72) scale(1 1.04)" text-anchor="end" font-size="29" font-weight="bold">0.2</text><rect x="824.2" y="262.59" width="10.2" height="3.7" fill="#000"/><text transform="translate(820.2 272.94) scale(1 1.04)" text-anchor="end" font-size="29" font-weight="bold">0.4</text><rect x="824.2" y="194.81" width="10.2" height="3.7" fill="#000"/><text transform="translate(820.2 205.16) scale(1 1.04)" text-anchor="end" font-size="29" font-weight="bold">0.6</text><rect x="824.2" y="127.03" width="10.2" height="3.7" fill="#000"/><text transform="translate(820.2 137.38) scale(1 1.04)" text-anchor="end" font-size="29" font-weight="bold">0.8</text><rect x="824.2" y="59.25" width="10.2" height="3.7" fill="#000"/><text transform="translate(820.2 69.6) scale(1 1.04)" text-anchor="end" font-size="29" font-weight="bold">1.0</text><rect x="779.89" y="65.83" width="6.81" height="4.37" fill="#fff"/><rect x="790.62" y="65.83" width="5.51" height="4.37" fill="#fff"/><rect x="869.85" y="435.75" width="531.2" height="3.7" fill="#000"/><rect x="869.85" y="437.6" width="3.7" height="10.2" fill="#000"/><text transform="translate(871.7 479.1) scale(1 1.04)" text-anchor="middle" font-size="29" font-weight="bold">0</text><rect x="975.35" y="437.6" width="3.7" height="10.2" fill="#000"/><text transform="translate(977.2 479.1) scale(1 1.04)" text-anchor="middle" font-size="29" font-weight="bold">2</text><rect x="1080.85" y="437.6" width="3.7" height="10.2" fill="#000"/><text transform="translate(1082.7 479.1) scale(1 1.04)" text-anchor="middle" font-size="29" font-weight="bold">4</text><rect x="1186.35" y="437.6" width="3.7" height="10.2" fill="#000"/><text transform="translate(1188.2 479.1) scale(1 1.04)" text-anchor="middle" font-size="29" font-weight="bold">6</text><rect x="1291.85" y="437.6" width="3.7" height="10.2" fill="#000"/><text transform="translate(1293.7 479.1) scale(1 1.04)" text-anchor="middle" font-size="29" font-weight="bold">8</text><rect x="1397.35" y="437.6" width="3.7" height="10.2" fill="#000"/><text transform="translate(1399.2 479.1) scale(1 1.04)" text-anchor="middle" font-size="29" font-weight="bold">10</text><rect x="1383.08" y="475.33" width="6.81" height="4.37" fill="#fff"/><rect x="1393.81" y="475.33" width="5.51" height="4.37" fill="#fff"/>
<text transform="translate(760 227) rotate(-90)" text-anchor="middle" font-size="30.3" font-weight="bold">Defibrillation probability</text>
<text x="1137" y="523" text-anchor="middle" font-size="31.3" font-weight="bold">HEF (V/cm)</text>
<g fill="none" stroke-width="1.4">
<path d="M943.44 392.25 L944.96 391.78 L946.48 391.3 L948 390.79 L949.52 390.27 L951.04 389.72 L952.56 389.16 L954.07 388.57 L955.59 387.97 L957.11 387.34 L958.63 386.69 L960.15 386.02 L961.67 385.33 L963.19 384.62 L964.71 383.89 L966.23 383.13 L967.75 382.35 L969.27 381.55 L970.79 380.73 L972.3 379.89 L973.82 379.02 L975.34 378.13 L976.86 377.22 L978.38 376.29 L979.9 375.33 L981.42 374.35 L982.94 373.35 L984.46 372.33 L985.98 371.28 L987.5 370.22 L989.02 369.13 L990.54 368.02 L992.05 366.89 L993.57 365.73 L995.09 364.56 L996.61 363.36 L998.13 362.15 L999.65 360.91 L1001.17 359.65 L1002.69 358.37 L1004.21 357.07 L1005.73 355.76 L1007.25 354.42 L1008.77 353.06 L1010.28 351.69 L1011.8 350.29 L1013.32 348.88 L1014.84 347.45 L1016.36 346.01 L1017.88 344.54 L1019.4 343.06 L1020.92 341.57 L1022.44 340.06 L1023.96 338.53 L1025.48 336.99 L1027 335.43 L1028.52 333.86 L1030.03 332.27 L1031.55 330.68 L1033.07 329.07 L1034.59 327.44 L1036.11 325.81 L1037.63 324.16 L1039.15 322.51 L1040.67 320.84 L1042.19 319.17 L1043.71 317.48 L1045.23 315.79 L1046.75 314.08 L1048.26 312.37 L1049.78 310.66 L1051.3 308.93 L1052.82 307.2 L1054.34 305.46 L1055.86 303.72 L1057.38 301.97 L1058.9 300.22 L1060.42 298.47 L1061.94 296.71 L1063.46 294.94 L1064.98 293.18 L1066.5 291.41 L1068.01 289.65 L1069.53 287.88 L1071.05 286.11 L1072.57 284.33 L1074.09 282.56 L1075.61 280.79 L1077.13 279.03 L1078.65 277.26 L1080.17 275.49 L1081.69 273.73 L1083.21 271.97 L1084.73 270.21 L1086.24 268.46 L1087.76 266.7 L1089.28 264.96 L1090.8 263.22 L1092.32 261.48 L1093.84 259.75 L1095.36 258.02 L1096.88 256.3 L1098.4 254.58 L1099.92 252.87 L1101.44 251.17 L1102.96 249.48 L1104.48 247.79 L1105.99 246.11 L1107.51 244.43 L1109.03 242.77 L1110.55 241.11 L1112.07 239.46 L1113.59 237.82 L1115.11 236.19 L1116.63 234.57 L1118.15 232.95 L1119.67 231.35 L1121.19 229.76 L1122.71 228.17 L1124.22 226.6 L1125.74 225.03 L1127.26 223.48 L1128.78 221.93 L1130.3 220.4 L1131.82 218.88 L1133.34 217.36 L1134.86 215.86 L1136.38 214.37 L1137.9 212.89 L1139.42 211.42 L1140.94 209.96 L1142.46 208.52 L1143.97 207.08 L1145.49 205.66 L1147.01 204.24 L1148.53 202.84 L1150.05 201.45 L1151.57 200.07 L1153.09 198.7 L1154.61 197.35 L1156.13 196 L1157.65 194.67 L1159.17 193.35 L1160.69 192.04 L1162.2 190.74 L1163.72 189.46 L1165.24 188.18 L1166.76 186.92 L1168.28 185.67 L1169.8 184.43 L1171.32 183.2 L1172.84 181.98 L1174.36 180.77 L1175.88 179.58 L1177.4 178.4 L1178.92 177.23 L1180.44 176.06 L1181.95 174.92 L1183.47 173.78 L1184.99 172.65 L1186.51 171.53 L1188.03 170.43 L1189.55 169.34 L1191.07 168.25 L1192.59 167.18 L1194.11 166.12 L1195.63 165.07 L1197.15 164.03 L1198.67 163 L1200.18 161.98 L1201.7 160.97 L1203.22 159.98 L1204.74 158.99 L1206.26 158.01 L1207.78 157.04 L1209.3 156.09 L1210.82 155.14 L1212.34 154.2 L1213.86 153.28 L1215.38 152.36 L1216.9 151.45 L1218.42 150.55 L1219.93 149.67 L1221.45 148.79 L1222.97 147.92 L1224.49 147.06 L1226.01 146.21 L1227.53 145.36 L1229.05 144.53 L1230.57 143.71 L1232.09 142.89 L1233.61 142.09 L1235.13 141.29 L1236.65 140.5 L1238.16 139.72 L1239.68 138.95 L1241.2 138.19 L1242.72 137.43 L1244.24 136.68 L1245.76 135.95 L1247.28 135.22 L1248.8 134.49 L1250.32 133.78 L1251.84 133.07 L1253.36 132.37 L1254.88 131.68 L1256.4 131 L1257.91 130.32 L1259.43 129.65 L1260.95 128.99 L1262.47 128.34 L1263.99 127.69 L1265.51 127.05 L1267.03 126.42 L1268.55 125.79 L1270.07 125.17 L1271.59 124.56 L1273.11 123.96 L1274.63 123.36 L1276.14 122.77 L1277.66 122.18 L1279.18 121.6 L1280.7 121.03 L1282.22 120.46 L1283.74 119.9 L1285.26 119.35 L1286.78 118.8 L1288.3 118.26 L1289.82 117.72 L1291.34 117.19 L1292.86 116.67 L1294.38 116.15 L1295.89 115.64 L1297.41 115.13 L1298.93 114.63 L1300.45 114.13 L1301.97 113.64 L1303.49 113.16 L1305.01 112.68 L1306.53 112.2 L1308.05 111.73 L1309.57 111.27 L1311.09 110.81 L1312.61 110.35 L1314.12 109.9 L1315.64 109.46 L1317.16 109.02 L1318.68 108.58 L1320.2 108.15 L1321.72 107.73 L1323.24 107.31 L1324.76 106.89 L1326.28 106.48 L1327.8 106.07 L1329.32 105.67 L1330.84 105.27 L1332.36 104.87 L1333.87 104.48 L1335.39 104.1 L1336.91 103.71 L1338.43 103.34 L1339.95 102.96 L1341.47 102.59 L1342.99 102.23 L1344.51 101.86 L1346.03 101.51 L1347.55 101.15 L1349.07 100.8 L1350.59 100.45 L1352.1 100.11 L1353.62 99.77 L1355.14 99.44 L1356.66 99.1 L1358.18 98.77 L1359.7 98.45 L1361.22 98.13 L1362.74 97.81 L1364.26 97.49 L1365.78 97.18 L1367.3 96.87 L1368.82 96.56 L1370.34 96.26 L1371.85 95.96 L1373.37 95.67 L1374.89 95.37 L1376.41 95.08 L1377.93 94.8 L1379.45 94.51 L1380.97 94.23 L1382.49 93.95 L1384.01 93.68 L1385.53 93.4 L1387.05 93.13 L1388.57 92.87 L1390.08 92.6 L1391.6 92.34 L1393.12 92.08 L1394.64 91.83 L1396.16 91.57 L1397.68 91.32 L1399.2 91.07" stroke="#000000"/>
<path d="M1009.91 378.24 L1011.2 377.43 L1012.5 376.6 L1013.8 375.75 L1015.1 374.87 L1016.39 373.97 L1017.69 373.06 L1018.99 372.12 L1020.29 371.16 L1021.58 370.17 L1022.88 369.17 L1024.18 368.14 L1025.48 367.09 L1026.77 366.02 L1028.07 364.93 L1029.37 363.81 L1030.67 362.67 L1031.97 361.51 L1033.26 360.33 L1034.56 359.12 L1035.86 357.9 L1037.16 356.65 L1038.45 355.38 L1039.75 354.08 L1041.05 352.77 L1042.35 351.43 L1043.64 350.07 L1044.94 348.7 L1046.24 347.3 L1047.54 345.88 L1048.83 344.44 L1050.13 342.98 L1051.43 341.5 L1052.73 339.99 L1054.03 338.48 L1055.32 336.94 L1056.62 335.38 L1057.92 333.8 L1059.22 332.21 L1060.51 330.6 L1061.81 328.97 L1063.11 327.32 L1064.41 325.66 L1065.7 323.98 L1067 322.28 L1068.3 320.58 L1069.6 318.85 L1070.89 317.11 L1072.19 315.36 L1073.49 313.59 L1074.79 311.82 L1076.09 310.03 L1077.38 308.22 L1078.68 306.41 L1079.98 304.58 L1081.28 302.75 L1082.57 300.91 L1083.87 299.05 L1085.17 297.19 L1086.47 295.32 L1087.76 293.44 L1089.06 291.56 L1090.36 289.67 L1091.66 287.77 L1092.95 285.87 L1094.25 283.96 L1095.55 282.05 L1096.85 280.14 L1098.15 278.22 L1099.44 276.3 L1100.74 274.38 L1102.04 272.46 L1103.34 270.53 L1104.63 268.61 L1105.93 266.68 L1107.23 264.76 L1108.53 262.84 L1109.82 260.92 L1111.12 259 L1112.42 257.08 L1113.72 255.17 L1115.01 253.26 L1116.31 251.36 L1117.61 249.46 L1118.91 247.56 L1120.21 245.67 L1121.5 243.79 L1122.8 241.91 L1124.1 240.04 L1125.4 238.18 L1126.69 236.32 L1127.99 234.48 L1129.29 232.64 L1130.59 230.8 L1131.88 228.98 L1133.18 227.17 L1134.48 225.37 L1135.78 223.57 L1137.07 221.79 L1138.37 220.02 L1139.67 218.26 L1140.97 216.5 L1142.27 214.77 L1143.56 213.04 L1144.86 211.32 L1146.16 209.62 L1147.46 207.92 L1148.75 206.24 L1150.05 204.58 L1151.35 202.92 L1152.65 201.28 L1153.94 199.65 L1155.24 198.04 L1156.54 196.43 L1157.84 194.85 L1159.13 193.27 L1160.43 191.71 L1161.73 190.16 L1163.03 188.63 L1164.33 187.11 L1165.62 185.6 L1166.92 184.11 L1168.22 182.63 L1169.52 181.17 L1170.81 179.72 L1172.11 178.28 L1173.41 176.86 L1174.71 175.45 L1176 174.06 L1177.3 172.68 L1178.6 171.32 L1179.9 169.97 L1181.19 168.63 L1182.49 167.31 L1183.79 166.01 L1185.09 164.71 L1186.39 163.43 L1187.68 162.17 L1188.98 160.92 L1190.28 159.68 L1191.58 158.46 L1192.87 157.25 L1194.17 156.06 L1195.47 154.88 L1196.77 153.71 L1198.06 152.55 L1199.36 151.41 L1200.66 150.29 L1201.96 149.17 L1203.25 148.07 L1204.55 146.98 L1205.85 145.91 L1207.15 144.85 L1208.45 143.8 L1209.74 142.76 L1211.04 141.74 L1212.34 140.73 L1213.64 139.73 L1214.93 138.75 L1216.23 137.78 L1217.53 136.81 L1218.83 135.87 L1220.12 134.93 L1221.42 134 L1222.72 133.09 L1224.02 132.19 L1225.31 131.3 L1226.61 130.42 L1227.91 129.55 L1229.21 128.69 L1230.51 127.85 L1231.8 127.01 L1233.1 126.19 L1234.4 125.38 L1235.7 124.57 L1236.99 123.78 L1238.29 123 L1239.59 122.23 L1240.89 121.46 L1242.18 120.71 L1243.48 119.97 L1244.78 119.24 L1246.08 118.52 L1247.37 117.8 L1248.67 117.1 L1249.97 116.41 L1251.27 115.72 L1252.57 115.04 L1253.86 114.38 L1255.16 113.72 L1256.46 113.07 L1257.76 112.43 L1259.05 111.8 L1260.35 111.17 L1261.65 110.56 L1262.95 109.95 L1264.24 109.35 L1265.54 108.76 L1266.84 108.18 L1268.14 107.6 L1269.43 107.03 L1270.73 106.47 L1272.03 105.92 L1273.33 105.37 L1274.63 104.83 L1275.92 104.3 L1277.22 103.78 L1278.52 103.26 L1279.82 102.75 L1281.11 102.25 L1282.41 101.75 L1283.71 101.26 L1285.01 100.78 L1286.3 100.3 L1287.6 99.83 L1288.9 99.37 L1290.2 98.91 L1291.5 98.46 L1292.79 98.01 L1294.09 97.57 L1295.39 97.14 L1296.69 96.71 L1297.98 96.28 L1299.28 95.87 L1300.58 95.46 L1301.88 95.05 L1303.17 94.65 L1304.47 94.25 L1305.77 93.86 L1307.07 93.48 L1308.36 93.1 L1309.66 92.72 L1310.96 92.35 L1312.26 91.99 L1313.56 91.63 L1314.85 91.27 L1316.15 90.92 L1317.45 90.57 L1318.75 90.23 L1320.04 89.89 L1321.34 89.56 L1322.64 89.23 L1323.94 88.91 L1325.23 88.59 L1326.53 88.27 L1327.83 87.96 L1329.13 87.65 L1330.42 87.35 L1331.72 87.05 L1333.02 86.75 L1334.32 86.46 L1335.62 86.17 L1336.91 85.89 L1338.21 85.61 L1339.51 85.33 L1340.81 85.06 L1342.1 84.79 L1343.4 84.52 L1344.7 84.26 L1346 84 L1347.29 83.74 L1348.59 83.49 L1349.89 83.24 L1351.19 82.99 L1352.48 82.75 L1353.78 82.51 L1355.08 82.27 L1356.38 82.03 L1357.68 81.8 L1358.97 81.57 L1360.27 81.35 L1361.57 81.12 L1362.87 80.9 L1364.16 80.69 L1365.46 80.47 L1366.76 80.26 L1368.06 80.05 L1369.35 79.84 L1370.65 79.64 L1371.95 79.44 L1373.25 79.24 L1374.54 79.04 L1375.84 78.85 L1377.14 78.66 L1378.44 78.47 L1379.74 78.28 L1381.03 78.09 L1382.33 77.91 L1383.63 77.73 L1384.93 77.55 L1386.22 77.38 L1387.52 77.2 L1388.82 77.03 L1390.12 76.86 L1391.41 76.69 L1392.71 76.53 L1394.01 76.36 L1395.31 76.2 L1396.6 76.04 L1397.9 75.89 L1399.2 75.73" stroke="#ff6600"/>
<path d="M1016.76 399.27 L1017.72 399.26 L1018.67 399.25 L1019.63 399.23 L1020.59 399.22 L1021.54 399.2 L1022.5 399.19 L1023.46 399.17 L1024.41 399.15 L1025.37 399.13 L1026.32 399.1 L1027.28 399.08 L1028.24 399.05 L1029.19 399.02 L1030.15 398.99 L1031.1 398.96 L1032.06 398.92 L1033.02 398.88 L1033.97 398.84 L1034.93 398.8 L1035.88 398.75 L1036.84 398.69 L1037.8 398.64 L1038.75 398.58 L1039.71 398.51 L1040.66 398.44 L1041.62 398.37 L1042.58 398.28 L1043.53 398.2 L1044.49 398.1 L1045.45 398 L1046.4 397.9 L1047.36 397.78 L1048.31 397.65 L1049.27 397.52 L1050.23 397.38 L1051.18 397.23 L1052.14 397.06 L1053.09 396.89 L1054.05 396.7 L1055.01 396.5 L1055.96 396.28 L1056.92 396.06 L1057.87 395.81 L1058.83 395.55 L1059.79 395.27 L1060.74 394.97 L1061.7 394.65 L1062.65 394.29 L1063.61 393.92 L1064.57 393.51 L1065.52 393.07 L1066.48 392.6 L1067.44 392.11 L1068.39 391.58 L1069.35 391.02 L1070.3 390.43 L1071.26 389.82 L1072.22 389.17 L1073.17 388.51 L1074.13 387.82 L1075.08 387.11 L1076.04 386.37 L1077 385.61 L1077.95 384.82 L1078.91 384 L1079.86 383.14 L1080.82 382.26 L1081.78 381.33 L1082.73 380.36 L1083.69 379.35 L1084.65 378.29 L1085.6 377.17 L1086.56 376.01 L1087.51 374.8 L1088.47 373.55 L1089.43 372.24 L1090.38 370.89 L1091.34 369.49 L1092.29 368.05 L1093.25 366.56 L1094.21 365.03 L1095.16 363.46 L1096.12 361.87 L1097.07 360.26 L1098.03 358.61 L1098.99 356.91 L1099.94 355.16 L1100.9 353.34 L1101.85 351.43 L1102.81 349.41 L1103.77 347.29 L1104.72 345.08 L1105.68 342.79 L1106.64 340.43 L1107.59 338.02 L1108.55 335.57 L1109.5 333.11 L1110.46 330.6 L1111.42 328.05 L1112.37 325.45 L1113.33 322.8 L1114.28 320.11 L1115.24 317.38 L1116.2 314.61 L1117.15 311.79 L1118.11 308.93 L1119.06 306.04 L1120.02 303.1 L1120.98 300.12 L1121.93 297.11 L1122.89 294.07 L1123.85 290.98 L1124.8 287.87 L1125.76 284.72 L1126.71 281.55 L1127.67 278.34 L1128.63 275.1 L1129.58 271.84 L1130.54 268.56 L1131.49 265.25 L1132.45 261.91 L1133.41 258.56 L1134.36 255.21 L1135.32 251.84 L1136.27 248.48 L1137.23 245.12 L1138.19 241.76 L1139.14 238.41 L1140.1 235.07 L1141.05 231.73 L1142.01 228.41 L1142.97 225.1 L1143.92 221.8 L1144.88 218.52 L1145.84 215.26 L1146.79 212.02 L1147.75 208.8 L1148.7 205.61 L1149.66 202.44 L1150.62 199.3 L1151.57 196.18 L1152.53 193.1 L1153.48 190.04 L1154.44 187.02 L1155.4 184.03 L1156.35 181.08 L1157.31 178.16 L1158.26 175.27 L1159.22 172.43 L1160.18 169.63 L1161.13 166.87 L1162.09 164.16 L1163.04 161.49 L1164 158.86 L1164.96 156.28 L1165.91 153.75 L1166.87 151.27 L1167.83 148.83 L1168.78 146.44 L1169.74 144.1 L1170.69 141.81 L1171.65 139.57 L1172.61 137.37 L1173.56 135.23 L1174.52 133.13 L1175.47 131.09 L1176.43 129.09 L1177.39 127.14 L1178.34 125.23 L1179.3 123.38 L1180.25 121.57 L1181.21 119.8 L1182.17 118.08 L1183.12 116.41 L1184.08 114.78 L1185.04 113.2 L1185.99 111.65 L1186.95 110.15 L1187.9 108.7 L1188.86 107.28 L1189.82 105.89 L1190.77 104.53 L1191.73 103.2 L1192.68 101.91 L1193.64 100.65 L1194.6 99.42 L1195.55 98.23 L1196.51 97.08 L1197.46 95.97 L1198.42 94.89 L1199.38 93.85 L1200.33 92.84 L1201.29 91.88 L1202.24 90.95 L1203.2 90.06 L1204.16 89.2 L1205.11 88.38 L1206.07 87.6 L1207.03 86.85 L1207.98 86.13 L1208.94 85.43 L1209.89 84.76 L1210.85 84.12 L1211.81 83.49 L1212.76 82.89 L1213.72 82.31 L1214.67 81.75 L1215.63 81.21 L1216.59 80.68 L1217.54 80.17 L1218.5 79.68 L1219.45 79.2 L1220.41 78.73 L1221.37 78.28 L1222.32 77.85 L1223.28 77.42 L1224.23 77.01 L1225.19 76.61 L1226.15 76.22 L1227.1 75.84 L1228.06 75.47 L1229.02 75.11 L1229.97 74.75 L1230.93 74.41 L1231.88 74.08 L1232.84 73.75 L1233.8 73.43 L1234.75 73.12 L1235.71 72.81 L1236.66 72.52 L1237.62 72.22 L1238.58 71.94 L1239.53 71.66 L1240.49 71.39 L1241.44 71.12 L1242.4 70.85 L1243.36 70.59 L1244.31 70.34 L1245.27 70.09 L1246.22 69.85 L1247.18 69.61 L1248.14 69.38 L1249.09 69.16 L1250.05 68.94 L1251.01 68.73 L1251.96 68.53 L1252.92 68.34 L1253.87 68.15 L1254.83 67.97 L1255.79 67.8 L1256.74 67.63 L1257.7 67.48 L1258.65 67.33 L1259.61 67.18 L1260.57 67.04 L1261.52 66.91 L1262.48 66.78 L1263.43 66.65 L1264.39 66.53 L1265.35 66.41 L1266.3 66.29 L1267.26 66.17 L1268.22 66.06 L1269.17 65.95 L1270.13 65.84 L1271.08 65.73 L1272.04 65.63 L1273 65.53 L1273.95 65.43 L1274.91 65.33 L1275.86 65.24 L1276.82 65.15 L1277.78 65.06 L1278.73 64.97 L1279.69 64.88 L1280.64 64.8 L1281.6 64.72 L1282.56 64.64 L1283.51 64.56 L1284.47 64.48 L1285.42 64.41 L1286.38 64.33 L1287.34 64.26 L1288.29 64.19 L1289.25 64.12 L1290.21 64.06 L1291.16 63.99 L1292.12 63.93 L1293.07 63.86 L1294.03 63.8 L1294.99 63.74 L1295.94 63.69 L1296.9 63.63 L1297.85 63.57 L1298.81 63.52 L1299.77 63.46 L1300.72 63.41 L1301.68 63.36 L1302.63 63.31 L1303.59 63.26 L1304.55 63.21 L1305.5 63.17 L1306.46 63.12 L1307.41 63.08 L1308.37 63.03 L1309.33 62.99 L1310.28 62.95 L1311.24 62.91 L1312.2 62.87 L1313.15 62.83 L1314.11 62.79 L1315.06 62.75 L1316.02 62.71 L1316.98 62.68 L1317.93 62.64 L1318.89 62.61 L1319.84 62.57 L1320.8 62.54 L1321.76 62.51 L1322.71 62.47 L1323.67 62.44 L1324.62 62.41 L1325.58 62.38 L1326.54 62.35 L1327.49 62.33 L1328.45 62.3 L1329.41 62.27 L1330.36 62.24 L1331.32 62.22 L1332.27 62.19 L1333.23 62.16 L1334.19 62.14 L1335.14 62.12 L1336.1 62.09 L1337.05 62.07 L1338.01 62.05 L1338.97 62.02 L1339.92 62 L1340.88 61.98 L1341.83 61.96 L1342.79 61.94 L1343.75 61.92 L1344.7 61.9 L1345.66 61.88 L1346.61 61.86 L1347.57 61.84 L1348.53 61.82 L1349.48 61.8 L1350.44 61.78 L1351.4 61.77 L1352.35 61.75 L1353.31 61.73 L1354.26 61.72 L1355.22 61.7 L1356.18 61.69 L1357.13 61.67 L1358.09 61.66 L1359.04 61.64 L1360 61.63 L1360.96 61.61 L1361.91 61.6 L1362.87 61.58 L1363.82 61.57 L1364.78 61.56 L1365.74 61.54 L1366.69 61.53 L1367.65 61.52 L1368.61 61.51 L1369.56 61.49 L1370.52 61.48 L1371.47 61.47 L1372.43 61.46 L1373.39 61.45 L1374.34 61.44 L1375.3 61.43 L1376.25 61.42 L1377.21 61.41 L1378.17 61.4 L1379.12 61.39 L1380.08 61.38 L1381.03 61.37 L1381.99 61.36 L1382.95 61.35 L1383.9 61.34 L1384.86 61.33 L1385.81 61.32 L1386.77 61.31 L1387.73 61.3 L1388.68 61.3 L1389.64 61.29 L1390.6 61.28 L1391.55 61.27 L1392.51 61.26 L1393.46 61.26 L1394.42 61.25 L1395.38 61.24 L1396.33 61.23 L1397.29 61.23 L1398.24 61.22 L1399.2 61.21" stroke="#8cb8f5"/>
<path d="M1057.38 386.69 L1058.52 386.17 L1059.66 385.63 L1060.8 385.08 L1061.94 384.51 L1063.08 383.92 L1064.22 383.31 L1065.36 382.69 L1066.5 382.04 L1067.63 381.38 L1068.77 380.69 L1069.91 379.99 L1071.05 379.26 L1072.19 378.52 L1073.33 377.75 L1074.47 376.96 L1075.61 376.15 L1076.75 375.31 L1077.89 374.46 L1079.03 373.58 L1080.17 372.67 L1081.31 371.75 L1082.45 370.79 L1083.59 369.82 L1084.73 368.82 L1085.87 367.8 L1087 366.75 L1088.14 365.67 L1089.28 364.57 L1090.42 363.45 L1091.56 362.29 L1092.7 361.12 L1093.84 359.91 L1094.98 358.68 L1096.12 357.43 L1097.26 356.14 L1098.4 354.83 L1099.54 353.5 L1100.68 352.14 L1101.82 350.75 L1102.96 349.33 L1104.1 347.89 L1105.23 346.42 L1106.37 344.92 L1107.51 343.4 L1108.65 341.85 L1109.79 340.27 L1110.93 338.67 L1112.07 337.04 L1113.21 335.39 L1114.35 333.71 L1115.49 332.01 L1116.63 330.28 L1117.77 328.53 L1118.91 326.75 L1120.05 324.95 L1121.19 323.13 L1122.33 321.28 L1123.47 319.41 L1124.6 317.52 L1125.74 315.6 L1126.88 313.67 L1128.02 311.71 L1129.16 309.74 L1130.3 307.75 L1131.44 305.73 L1132.58 303.7 L1133.72 301.65 L1134.86 299.59 L1136 297.51 L1137.14 295.41 L1138.28 293.3 L1139.42 291.17 L1140.56 289.03 L1141.7 286.88 L1142.84 284.72 L1143.97 282.55 L1145.11 280.36 L1146.25 278.17 L1147.39 275.97 L1148.53 273.76 L1149.67 271.54 L1150.81 269.32 L1151.95 267.09 L1153.09 264.86 L1154.23 262.62 L1155.37 260.38 L1156.51 258.14 L1157.65 255.9 L1158.79 253.66 L1159.93 251.42 L1161.07 249.18 L1162.2 246.94 L1163.34 244.7 L1164.48 242.47 L1165.62 240.24 L1166.76 238.02 L1167.9 235.8 L1169.04 233.59 L1170.18 231.39 L1171.32 229.19 L1172.46 227 L1173.6 224.82 L1174.74 222.66 L1175.88 220.5 L1177.02 218.35 L1178.16 216.22 L1179.3 214.1 L1180.44 211.99 L1181.57 209.89 L1182.71 207.81 L1183.85 205.74 L1184.99 203.69 L1186.13 201.65 L1187.27 199.62 L1188.41 197.62 L1189.55 195.63 L1190.69 193.66 L1191.83 191.7 L1192.97 189.76 L1194.11 187.84 L1195.25 185.94 L1196.39 184.06 L1197.53 182.19 L1198.67 180.34 L1199.81 178.52 L1200.94 176.71 L1202.08 174.92 L1203.22 173.15 L1204.36 171.4 L1205.5 169.68 L1206.64 167.97 L1207.78 166.28 L1208.92 164.61 L1210.06 162.96 L1211.2 161.33 L1212.34 159.73 L1213.48 158.14 L1214.62 156.57 L1215.76 155.03 L1216.9 153.5 L1218.04 151.99 L1219.17 150.51 L1220.31 149.04 L1221.45 147.6 L1222.59 146.17 L1223.73 144.77 L1224.87 143.39 L1226.01 142.02 L1227.15 140.67 L1228.29 139.35 L1229.43 138.04 L1230.57 136.76 L1231.71 135.49 L1232.85 134.24 L1233.99 133.01 L1235.13 131.8 L1236.27 130.61 L1237.41 129.43 L1238.54 128.28 L1239.68 127.14 L1240.82 126.02 L1241.96 124.92 L1243.1 123.83 L1244.24 122.77 L1245.38 121.72 L1246.52 120.68 L1247.66 119.67 L1248.8 118.67 L1249.94 117.69 L1251.08 116.72 L1252.22 115.77 L1253.36 114.83 L1254.5 113.91 L1255.64 113.01 L1256.78 112.12 L1257.91 111.24 L1259.05 110.38 L1260.19 109.54 L1261.33 108.71 L1262.47 107.89 L1263.61 107.09 L1264.75 106.3 L1265.89 105.52 L1267.03 104.76 L1268.17 104.01 L1269.31 103.28 L1270.45 102.55 L1271.59 101.84 L1272.73 101.14 L1273.87 100.46 L1275.01 99.78 L1276.14 99.12 L1277.28 98.47 L1278.42 97.83 L1279.56 97.2 L1280.7 96.58 L1281.84 95.97 L1282.98 95.38 L1284.12 94.79 L1285.26 94.22 L1286.4 93.65 L1287.54 93.1 L1288.68 92.55 L1289.82 92.01 L1290.96 91.49 L1292.1 90.97 L1293.24 90.46 L1294.38 89.96 L1295.51 89.47 L1296.65 88.99 L1297.79 88.52 L1298.93 88.05 L1300.07 87.6 L1301.21 87.15 L1302.35 86.71 L1303.49 86.28 L1304.63 85.85 L1305.77 85.43 L1306.91 85.02 L1308.05 84.62 L1309.19 84.22 L1310.33 83.84 L1311.47 83.45 L1312.61 83.08 L1313.75 82.71 L1314.88 82.35 L1316.02 81.99 L1317.16 81.64 L1318.3 81.3 L1319.44 80.96 L1320.58 80.63 L1321.72 80.31 L1322.86 79.99 L1324 79.67 L1325.14 79.36 L1326.28 79.06 L1327.42 78.76 L1328.56 78.47 L1329.7 78.18 L1330.84 77.9 L1331.98 77.62 L1333.11 77.35 L1334.25 77.08 L1335.39 76.82 L1336.53 76.56 L1337.67 76.3 L1338.81 76.05 L1339.95 75.81 L1341.09 75.57 L1342.23 75.33 L1343.37 75.1 L1344.51 74.87 L1345.65 74.64 L1346.79 74.42 L1347.93 74.21 L1349.07 73.99 L1350.21 73.78 L1351.35 73.58 L1352.48 73.37 L1353.62 73.17 L1354.76 72.98 L1355.9 72.78 L1357.04 72.6 L1358.18 72.41 L1359.32 72.23 L1360.46 72.05 L1361.6 71.87 L1362.74 71.7 L1363.88 71.53 L1365.02 71.36 L1366.16 71.19 L1367.3 71.03 L1368.44 70.87 L1369.58 70.71 L1370.72 70.56 L1371.85 70.41 L1372.99 70.26 L1374.13 70.11 L1375.27 69.97 L1376.41 69.83 L1377.55 69.69 L1378.69 69.55 L1379.83 69.41 L1380.97 69.28 L1382.11 69.15 L1383.25 69.02 L1384.39 68.9 L1385.53 68.77 L1386.67 68.65 L1387.81 68.53 L1388.95 68.41 L1390.08 68.3 L1391.22 68.18 L1392.36 68.07 L1393.5 67.96 L1394.64 67.85 L1395.78 67.74 L1396.92 67.64 L1398.06 67.53 L1399.2 67.43" stroke="#f01482"/>
</g>
<rect x="939.2" y="333.4" width="5.6" height="53.4" fill="#000000"/><rect x="936.1" y="330.7" width="11.8" height="5.4" fill="#000000"/><rect x="936.1" y="384.1" width="11.8" height="5.4" fill="#000000"/><path d="M942 362.7 L948 351.6 L936 351.6 Z" fill="#000000"/><rect x="939.2" y="360.5" width="5.6" height="38" fill="#000000"/><rect x="936.1" y="357.8" width="11.8" height="5.4" fill="#000000"/><rect x="936.1" y="395.8" width="11.8" height="5.4" fill="#000000"/><path d="M942 383.7 L948 372.6 L936 372.6 Z" fill="#000000"/><rect x="973.2" y="307.8" width="5.6" height="64.1" fill="#000000"/><rect x="970.1" y="305.1" width="11.8" height="5.4" fill="#000000"/><rect x="970.1" y="369.2" width="11.8" height="5.4" fill="#000000"/><path d="M976 343.7 L982 332.6 L970 332.6 Z" fill="#000000"/><rect x="1040.2" y="281" width="5.6" height="73.2" fill="#000000"/><rect x="1037.1" y="278.3" width="11.8" height="5.4" fill="#000000"/><rect x="1037.1" y="351.5" width="11.8" height="5.4" fill="#000000"/><path d="M1043 321.7 L1049 310.6 L1037 310.6 Z" fill="#000000"/><rect x="1065.8" y="254.3" width="5.6" height="79.3" fill="#000000"/><rect x="1062.7" y="251.6" width="11.8" height="5.4" fill="#000000"/><rect x="1062.7" y="330.9" width="11.8" height="5.4" fill="#000000"/><path d="M1068.6 296.7 L1074.6 285.6 L1062.6 285.6 Z" fill="#000000"/><rect x="1101.8" y="224.5" width="5.6" height="85.4" fill="#000000"/><rect x="1098.7" y="221.8" width="11.8" height="5.4" fill="#000000"/><rect x="1098.7" y="307.2" width="11.8" height="5.4" fill="#000000"/><path d="M1104.6 267.7 L1110.6 256.6 L1098.6 256.6 Z" fill="#000000"/><rect x="1120.8" y="185.2" width="5.6" height="92.2" fill="#000000"/><rect x="1117.7" y="182.5" width="11.8" height="5.4" fill="#000000"/><rect x="1117.7" y="274.7" width="11.8" height="5.4" fill="#000000"/><path d="M1123.6 235.7 L1129.6 224.6 L1117.6 224.6 Z" fill="#000000"/><rect x="1180.2" y="139.2" width="5.6" height="102.2" fill="#000000"/><rect x="1177.1" y="136.5" width="11.8" height="5.4" fill="#000000"/><rect x="1177.1" y="238.7" width="11.8" height="5.4" fill="#000000"/><path d="M1183 193 L1189 181.9 L1177 181.9 Z" fill="#000000"/><rect x="1182.3" y="98.4" width="5.6" height="98.2" fill="#000000"/><rect x="1179.2" y="95.7" width="11.8" height="5.4" fill="#000000"/><rect x="1179.2" y="193.9" width="11.8" height="5.4" fill="#000000"/><path d="M1185.1 151.7 L1191.1 140.6 L1179.1 140.6 Z" fill="#000000"/><path d="M1366.2 66.4 L1372.2 55.3 L1360.2 55.3 Z" fill="#000000"/>
<rect x="1006.4" y="359.5" width="5.6" height="39" fill="#ff6600"/><rect x="1003.3" y="356.8" width="11.8" height="5.4" fill="#ff6600"/><rect x="1003.3" y="395.8" width="11.8" height="5.4" fill="#ff6600"/><path d="M1009.2 376.3 L1015.2 387.4 L1003.2 387.4 Z" fill="#ff6600"/><rect x="1039.1" y="328.7" width="5.6" height="56.8" fill="#ff6600"/><rect x="1036" y="326" width="11.8" height="5.4" fill="#ff6600"/><rect x="1036" y="382.8" width="11.8" height="5.4" fill="#ff6600"/><path d="M1041.9 351.3 L1047.9 362.4 L1035.9 362.4 Z" fill="#ff6600"/><rect x="1044.4" y="299.7" width="5.6" height="69.4" fill="#ff6600"/><rect x="1041.3" y="297" width="11.8" height="5.4" fill="#ff6600"/><rect x="1041.3" y="366.4" width="11.8" height="5.4" fill="#ff6600"/><path d="M1047.2 329.3 L1053.2 340.4 L1041.2 340.4 Z" fill="#ff6600"/><rect x="1069.2" y="273.6" width="5.6" height="75.7" fill="#ff6600"/><rect x="1066.1" y="270.9" width="11.8" height="5.4" fill="#ff6600"/><rect x="1066.1" y="346.6" width="11.8" height="5.4" fill="#ff6600"/><path d="M1072 307.8 L1078 318.9 L1066 318.9 Z" fill="#ff6600"/><rect x="1090.2" y="244.5" width="5.6" height="85.5" fill="#ff6600"/><rect x="1087.1" y="241.8" width="11.8" height="5.4" fill="#ff6600"/><rect x="1087.1" y="327.3" width="11.8" height="5.4" fill="#ff6600"/><path d="M1093 280.8 L1099 291.9 L1087 291.9 Z" fill="#ff6600"/><rect x="1102.2" y="212.3" width="5.6" height="91" fill="#ff6600"/><rect x="1099.1" y="209.6" width="11.8" height="5.4" fill="#ff6600"/><rect x="1099.1" y="300.6" width="11.8" height="5.4" fill="#ff6600"/><path d="M1105 252.3 L1111 263.4 L1099 263.4 Z" fill="#ff6600"/><rect x="1193.1" y="152.5" width="5.6" height="111" fill="#ff6600"/><rect x="1190" y="149.8" width="11.8" height="5.4" fill="#ff6600"/><rect x="1190" y="260.8" width="11.8" height="5.4" fill="#ff6600"/><path d="M1195.9 205.8 L1201.9 216.9 L1189.9 216.9 Z" fill="#ff6600"/><rect x="1214.6" y="104" width="5.6" height="110" fill="#ff6600"/><rect x="1211.5" y="101.3" width="11.8" height="5.4" fill="#ff6600"/><rect x="1211.5" y="211.3" width="11.8" height="5.4" fill="#ff6600"/><path d="M1217.4 155.1 L1223.4 166.2 L1211.4 166.2 Z" fill="#ff6600"/><rect x="1224" y="64.9" width="5.6" height="89.1" fill="#ff6600"/><rect x="1220.9" y="62.2" width="11.8" height="5.4" fill="#ff6600"/><rect x="1220.9" y="151.3" width="11.8" height="5.4" fill="#ff6600"/><path d="M1226.8 106.3 L1232.8 117.4 L1220.8 117.4 Z" fill="#ff6600"/><path d="M1226.8 55.3 L1232.8 66.4 L1220.8 66.4 Z" fill="#ff6600"/>
<rect x="1115.6" y="280.8" width="10.8" height="57.8" fill="#8cb8f5"/>
<rect x="1155.1" y="207" width="11.8" height="5.4" fill="#8cb8f5"/>
<rect x="1012.2" y="362.3" width="5.6" height="36.2" fill="#8cb8f5"/><rect x="1009.1" y="359.6" width="11.8" height="5.4" fill="#8cb8f5"/><rect x="1009.1" y="395.8" width="11.8" height="5.4" fill="#8cb8f5"/><rect x="1009" y="376" width="12" height="12" fill="#8cb8f5"/><rect x="1053.2" y="337.1" width="5.6" height="48.9" fill="#8cb8f5"/><rect x="1050.1" y="334.4" width="11.8" height="5.4" fill="#8cb8f5"/><rect x="1050.1" y="383.3" width="11.8" height="5.4" fill="#8cb8f5"/><rect x="1050" y="356" width="12" height="12" fill="#8cb8f5"/><rect x="1118.2" y="283.5" width="5.6" height="82.5" fill="#8cb8f5"/><rect x="1115.1" y="280.8" width="11.8" height="5.4" fill="#8cb8f5"/><rect x="1115.1" y="363.3" width="11.8" height="5.4" fill="#8cb8f5"/><rect x="1115" y="319" width="12" height="12" fill="#8cb8f5"/><rect x="1123.6" y="194.6" width="5.6" height="95.4" fill="#8cb8f5"/><rect x="1120.5" y="191.9" width="11.8" height="5.4" fill="#8cb8f5"/><rect x="1120.5" y="287.3" width="11.8" height="5.4" fill="#8cb8f5"/><rect x="1120.4" y="239" width="12" height="12" fill="#8cb8f5"/><rect x="1158.2" y="157.6" width="5.6" height="68.9" fill="#8cb8f5"/><rect x="1155.1" y="154.9" width="11.8" height="5.4" fill="#8cb8f5"/><rect x="1155.1" y="223.8" width="11.8" height="5.4" fill="#8cb8f5"/><rect x="1166.2" y="121.2" width="5.6" height="67.8" fill="#8cb8f5"/><rect x="1163.1" y="118.5" width="11.8" height="5.4" fill="#8cb8f5"/><rect x="1163.1" y="186.3" width="11.8" height="5.4" fill="#8cb8f5"/><rect x="1163" y="149" width="12" height="12" fill="#8cb8f5"/><rect x="1168.6" y="90.2" width="5.6" height="59.8" fill="#8cb8f5"/><rect x="1165.5" y="87.5" width="11.8" height="5.4" fill="#8cb8f5"/><rect x="1165.5" y="147.3" width="11.8" height="5.4" fill="#8cb8f5"/><rect x="1165.4" y="114" width="12" height="12" fill="#8cb8f5"/><rect x="1175.2" y="63.7" width="5.6" height="64.3" fill="#8cb8f5"/><rect x="1172.1" y="61" width="11.8" height="5.4" fill="#8cb8f5"/><rect x="1172.1" y="125.3" width="11.8" height="5.4" fill="#8cb8f5"/><rect x="1192.8" y="54.8" width="12" height="12" fill="#8cb8f5"/>
<rect x="1054.2" y="354.9" width="5.6" height="43.6" fill="#f01482"/><rect x="1051.1" y="352.2" width="11.8" height="5.4" fill="#f01482"/><rect x="1051.1" y="395.8" width="11.8" height="5.4" fill="#f01482"/><circle cx="1057" cy="377.5" r="6" fill="#f01482"/><rect x="1072.2" y="325" width="5.6" height="59.2" fill="#f01482"/><rect x="1069.1" y="322.3" width="11.8" height="5.4" fill="#f01482"/><rect x="1069.1" y="381.5" width="11.8" height="5.4" fill="#f01482"/><circle cx="1075" cy="355.1" r="6" fill="#f01482"/><rect x="1092.4" y="296.5" width="5.6" height="70.7" fill="#f01482"/><rect x="1089.3" y="293.8" width="11.8" height="5.4" fill="#f01482"/><rect x="1089.3" y="364.5" width="11.8" height="5.4" fill="#f01482"/><circle cx="1095.2" cy="331.5" r="6" fill="#f01482"/><rect x="1127.9" y="267.9" width="5.6" height="78.9" fill="#f01482"/><rect x="1124.8" y="265.2" width="11.8" height="5.4" fill="#f01482"/><rect x="1124.8" y="344.1" width="11.8" height="5.4" fill="#f01482"/><circle cx="1130.7" cy="307.3" r="6" fill="#f01482"/><rect x="1151.9" y="232" width="5.6" height="89.2" fill="#f01482"/><rect x="1148.8" y="229.3" width="11.8" height="5.4" fill="#f01482"/><rect x="1148.8" y="318.5" width="11.8" height="5.4" fill="#f01482"/><circle cx="1154.7" cy="276.6" r="6" fill="#f01482"/><rect x="1164.4" y="197.7" width="5.6" height="96" fill="#f01482"/><rect x="1161.3" y="195" width="11.8" height="5.4" fill="#f01482"/><rect x="1161.3" y="291" width="11.8" height="5.4" fill="#f01482"/><circle cx="1167.2" cy="245" r="6" fill="#f01482"/><rect x="1193.8" y="144.7" width="5.6" height="108.9" fill="#f01482"/><rect x="1190.7" y="142" width="11.8" height="5.4" fill="#f01482"/><rect x="1190.7" y="250.9" width="11.8" height="5.4" fill="#f01482"/><circle cx="1196.6" cy="199.2" r="6" fill="#f01482"/><rect x="1204.8" y="101.8" width="5.6" height="103.3" fill="#f01482"/><rect x="1201.7" y="99.1" width="11.8" height="5.4" fill="#f01482"/><rect x="1201.7" y="202.4" width="11.8" height="5.4" fill="#f01482"/><circle cx="1207.6" cy="152.5" r="6" fill="#f01482"/><rect x="1229.2" y="65.6" width="5.6" height="82.8" fill="#f01482"/><rect x="1226.1" y="62.9" width="11.8" height="5.4" fill="#f01482"/><rect x="1226.1" y="145.7" width="11.8" height="5.4" fill="#f01482"/><circle cx="1232" cy="107.3" r="6" fill="#f01482"/><circle cx="1297.4" cy="60.9" r="6" fill="#f01482"/>
<rect x="1270.6" y="257.8" width="90.4" height="157" fill="#fff" stroke="#000" stroke-width="1.7"/>
<circle cx="1292.9" cy="280.3" r="6" fill="#f01482"/>
<rect x="1286.9" y="310.4" width="12" height="12" fill="#8cb8f5"/>
<path d="M1292.9 347.7 L1298.9 358.8 L1286.9 358.8 Z" fill="#ff6600"/>
<path d="M1292.9 395.2 L1298.9 384.1 L1286.9 384.1 Z" fill="#000000"/>
<text transform="translate(1313 290.9) scale(1 1.04)" text-anchor="start" font-size="31">3</text>
<text transform="translate(1313 327.2) scale(1 1.04)" text-anchor="start" font-size="31">5</text>
<text transform="translate(1313 363.4) scale(1 1.04)" text-anchor="start" font-size="31">8</text>
<text transform="translate(1313 399.7) scale(1 1.04)" text-anchor="start" font-size="31">10</text>
<rect x="1313" y="396.31" width="7.75" height="3.99" fill="#fff"/><rect x="1323.54" y="396.31" width="6.51" height="3.99" fill="#fff"/>
</g>
</svg>
</body></html>
